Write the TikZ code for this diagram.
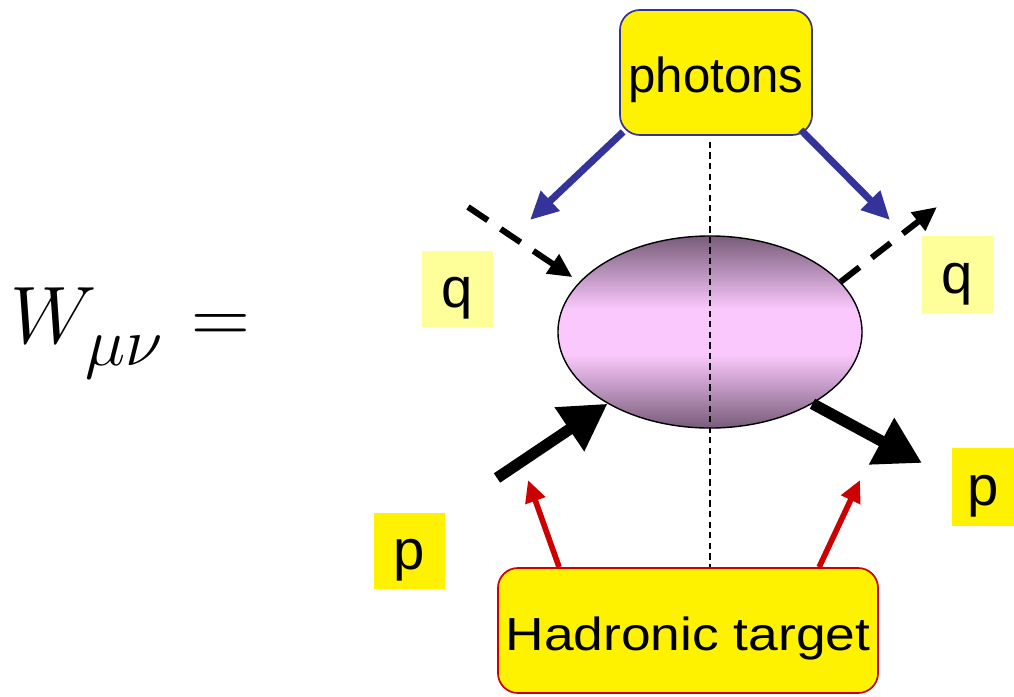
\documentclass[tikz,border=0pt]{standalone}
\usepackage{amsmath}
\usepackage{graphicx}
\usepackage{fontspec}
\newfontfamily\boxfont{Liberation Sans}
\newfontfamily\widefont[FakeStretch=1.15]{Liberation Sans}
\usepackage{xcolor}
\usetikzlibrary{shapes.geometric,arrows.meta,positioning,calc}

\definecolor{photonblue}{RGB}{51,51,153}
\definecolor{targetred}{RGB}{204,0,0}
\definecolor{paleyellow}{RGB}{255,255,153}
\definecolor{blobdark}{RGB}{120,92,122}
\definecolor{bloblight}{RGB}{250,200,252}
\pgfdeclareverticalshading{blobshade}{100bp}{color(0bp)=(blobdark); color(25bp)=(blobdark); color(44bp)=(bloblight); color(56bp)=(bloblight); color(75bp)=(blobdark); color(100bp)=(blobdark)}

\begin{document}
\begin{tikzpicture}[
    x=0.025cm, y=-0.025cm,
    tagbox/.style={rectangle, draw, rounded corners=0.5cm, fill=yellow, line width=1.2pt, inner sep=0pt, minimum height=3.125cm},
    letterbox/.style={rectangle, inner sep=0pt, minimum width=1.775cm, minimum height=1.9cm, text height=34pt, text depth=7.4pt, font=\boxfont\fontsize{40}{48}\selectfont},
    photonarrow/.style={-{Triangle[length=0.7cm, width=0.65cm]}, line width=5pt, photonblue},
    targetarrow/.style={-{Triangle[length=0.55cm, width=0.5cm]}, line width=4pt, targetred},
    qline/.style={-{Triangle[length=0.6cm, width=0.55cm]}, line width=4.3pt, dash pattern=on 17pt off 11pt},
    pline/.style={-{Triangle[length=1.15cm, width=1.25cm]}, line width=8pt}
]
\useasboundingbox (0,0) rectangle (1014,697);

% Formula
\node[anchor=base west, inner sep=0pt, font=\Huge] (hadtensor) at (10,343)
  {\scalebox{2.33}{$W_{\lower3pt\hbox{$\scriptstyle\mu\nu$}}\mkern1mu=$}};

% Blob
\node[ellipse, draw, line width=1pt, inner sep=0pt, minimum width=7.6cm, minimum height=4.8cm,
      shading=blobshade] (blob) at (710,332) {};

% Boxes
\node[tagbox, draw=photonblue, minimum width=4.8cm, text height=35pt, text depth=6pt,
      font=\boxfont\fontsize{35}{42}\selectfont] (photons) at (716,72.5) {photons};
\node[tagbox, draw=targetred, minimum width=9.5cm, text height=34.6pt, text depth=6.6pt,
      font=\widefont\fontsize{33}{40}\selectfont] (hadron) at (688,630.5) {Hadronic target};

% Momentum labels
\node[letterbox, fill=paleyellow] (qin) at (457.5,289) {q};
\node[letterbox, fill=paleyellow] (qout) at (957.5,274.5) {q};
\node[letterbox, fill=yellow] (pin) at (409.5,551) {p};
\node[letterbox, fill=yellow, minimum width=1.55cm, minimum height=1.95cm] (pout) at (983,487) {p};

% Free ends
\coordinate (qstart) at (468,207);
\coordinate (qend) at (937,207);
\coordinate (pstart) at (497,478);
\coordinate (pend) at (922,463);
\coordinate (photontipL) at (530,220);
\coordinate (photontipR) at (890,220);
\coordinate (targettipL) at (528,480);
\coordinate (targettipR) at (860,480);

% Cut line
\draw[line width=1pt, dash pattern=on 4.5pt off 3pt] ($(photons.south -| blob)+(0,6)$) -- (hadron.north -| blob);

% Arrows
\draw[qline, shorten >=6] (qstart) -- (blob.159);
\draw[qline] (blob.21) -- (qend);
\draw[pline] (pstart) -- (blob.215);
\draw[pline] (blob.-35) -- (pend);
\draw[photonarrow] ($(photons.south west)+(4,-4)$) -- (photontipL);
\draw[photonarrow] ($(photons.south east)+(-12,-6)$) -- (photontipR);
\draw[targetarrow] ($(hadron.north west)+(62,0)$) -- (targettipL);
\draw[targetarrow] ($(hadron.north west)+(322,0)$) -- (targettipR);

\end{tikzpicture}
\end{document}
